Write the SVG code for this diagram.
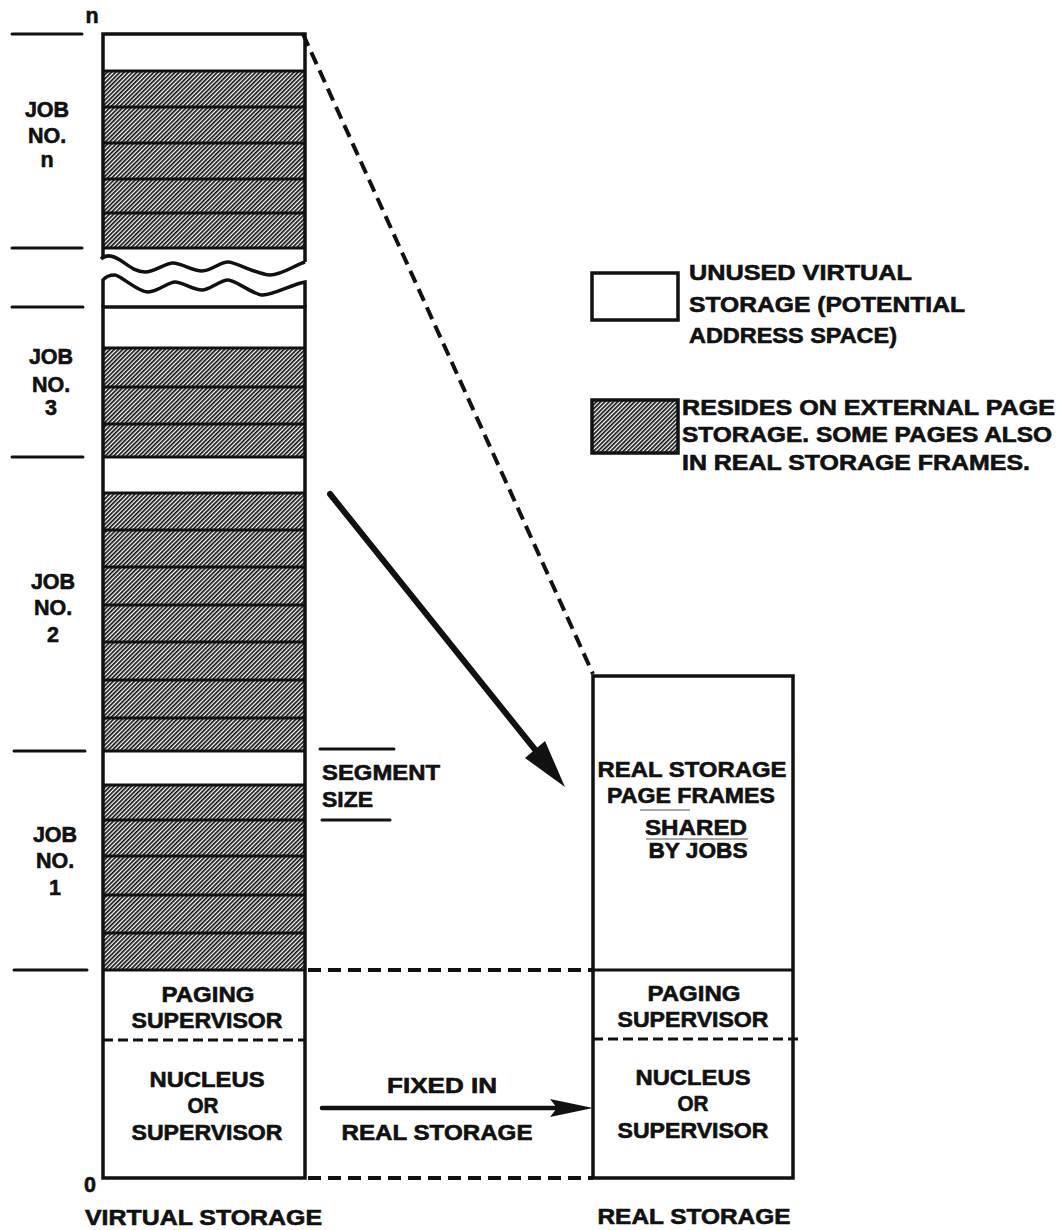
<svg xmlns="http://www.w3.org/2000/svg" width="1057" height="1230" viewBox="0 0 1057 1230">
<style>
.t{font-family:"Liberation Sans",Arial,sans-serif;font-weight:bold;font-size:21.5px;fill:#111;stroke:#111;stroke-width:0.6}
.m{text-anchor:middle}
.ol{fill:none;stroke:#111;stroke-width:3.5}
.row{stroke:#111;stroke-width:3}
.tick{stroke:#111;stroke-width:3;stroke-linecap:round}
.dash{fill:none;stroke:#111;stroke-width:4;stroke-dasharray:13 7}
.dsm{fill:none;stroke:#111;stroke-width:3;stroke-dasharray:10 5}
</style>
<defs>
<pattern id="hatch" width="3" height="3" patternUnits="userSpaceOnUse" patternTransform="rotate(45)">
<rect width="3" height="3" fill="#fff"/><rect width="1.7" height="3" fill="#111"/>
</pattern>
</defs>

<g id="scale-ticks">
<line class="tick" x1="12" y1="34" x2="82" y2="34"/>
<line class="tick" x1="12" y1="248" x2="82" y2="248"/>
<line class="tick" x1="12" y1="307" x2="83" y2="307"/>
<line class="tick" x1="12" y1="457" x2="83" y2="457"/>
<line class="tick" x1="14" y1="751" x2="85" y2="751"/>
<line class="tick" x1="14" y1="970" x2="87" y2="970"/>
<text class="t m" x="92" y="23">n</text>
<text class="t m" x="90" y="1192">0</text>
</g>

<g id="job-n">
<rect x="103" y="34" width="202" height="214" fill="#fff"/>
<rect x="103" y="71" width="202" height="177" fill="url(#hatch)"/>
<line class="row" x1="103" y1="71" x2="305" y2="71"/>
<line class="row" x1="103" y1="107" x2="305" y2="107"/>
<line class="row" x1="103" y1="143" x2="305" y2="143"/>
<line class="row" x1="103" y1="179" x2="305" y2="179"/>
<line class="row" x1="103" y1="213" x2="305" y2="213"/>
<path class="ol" d="M103,258 L103,34 L305,34 L305,262"/>
<line class="row" x1="103" y1="248" x2="305" y2="248"/>
<text class="t m" x="47" y="117">JOB</text>
<text class="t m" x="47" y="143">NO.</text>
<text class="t m" x="47" y="167">n</text>
</g>

<g id="break">
<path class="ol" d="M101,259 C106,254 112,255 120,260 S135,272 145,272 S165,263 173,263 S193,271 202,271 S220,262 228,262 S258,275 270,275 S295,265 305,262"/>
<path class="ol" d="M103,307 L103,280 C106,276 110,275 115,275 S138,292 148,292 S168,282 175,282 S194,290 202,290 S220,280 228,280 S253,295 263,295 S293,284 305,282 L305,307"/>
</g>

<g id="job-3">
<rect x="103" y="307" width="202" height="150" fill="#fff"/>
<rect x="103" y="348" width="202" height="109" fill="url(#hatch)"/>
<line class="row" x1="103" y1="348" x2="305" y2="348"/>
<line class="row" x1="103" y1="387" x2="305" y2="387"/>
<line class="row" x1="103" y1="424" x2="305" y2="424"/>
<text class="t m" x="51" y="364">JOB</text>
<text class="t m" x="51" y="392">NO.</text>
<text class="t m" x="51" y="415">3</text>
</g>

<g id="job-2">
<rect x="103" y="457" width="202" height="294" fill="#fff"/>
<rect x="103" y="493" width="202" height="258" fill="url(#hatch)"/>
<line class="row" x1="103" y1="457" x2="305" y2="457"/>
<line class="row" x1="103" y1="493" x2="305" y2="493"/>
<line class="row" x1="103" y1="530" x2="305" y2="530"/>
<line class="row" x1="103" y1="567" x2="305" y2="567"/>
<line class="row" x1="103" y1="605" x2="305" y2="605"/>
<line class="row" x1="103" y1="642" x2="305" y2="642"/>
<line class="row" x1="103" y1="680" x2="305" y2="680"/>
<line class="row" x1="103" y1="718" x2="305" y2="718"/>
<text class="t m" x="53" y="589">JOB</text>
<text class="t m" x="53" y="615">NO.</text>
<text class="t m" x="53" y="642">2</text>
</g>

<g id="job-1">
<rect x="103" y="751" width="202" height="219" fill="#fff"/>
<rect x="103" y="785" width="202" height="185" fill="url(#hatch)"/>
<line class="row" x1="103" y1="751" x2="305" y2="751"/>
<line class="row" x1="103" y1="785" x2="305" y2="785"/>
<line class="row" x1="103" y1="820" x2="305" y2="820"/>
<line class="row" x1="103" y1="856" x2="305" y2="856"/>
<line class="row" x1="103" y1="895" x2="305" y2="895"/>
<line class="row" x1="103" y1="933" x2="305" y2="933"/>
<text class="t m" x="55" y="842">JOB</text>
<text class="t m" x="55" y="868">NO.</text>
<text class="t m" x="55" y="895">1</text>
</g>

<g id="v-paging-supervisor">
<line class="row" x1="103" y1="970" x2="305" y2="970"/>
<text class="t m" x="208" y="1002" textLength="93" lengthAdjust="spacingAndGlyphs">PAGING</text>
<text class="t m" x="207" y="1028" textLength="151" lengthAdjust="spacingAndGlyphs">SUPERVISOR</text>
<line class="dsm" x1="103" y1="1040" x2="305" y2="1040"/>
</g>

<g id="v-nucleus">
<text class="t m" x="207" y="1087" textLength="115" lengthAdjust="spacingAndGlyphs">NUCLEUS</text>
<text class="t m" x="203" y="1113" textLength="31" lengthAdjust="spacingAndGlyphs">OR</text>
<text class="t m" x="207" y="1140" textLength="151" lengthAdjust="spacingAndGlyphs">SUPERVISOR</text>
</g>

<path id="v-outline" class="ol" d="M103,307 L103,1178 L305,1178 L305,307 Z"/>

<g id="virtual-storage-label">
<text class="t" x="85" y="1225" textLength="237" lengthAdjust="spacingAndGlyphs">VIRTUAL STORAGE</text>
</g>

<g id="segment-size">
<line class="tick" x1="320" y1="749" x2="394" y2="749"/>
<line class="tick" x1="322" y1="820" x2="390" y2="820"/>
<text class="t" x="322" y="780" textLength="118" lengthAdjust="spacingAndGlyphs">SEGMENT</text>
<text class="t" x="322" y="807" textLength="51" lengthAdjust="spacingAndGlyphs">SIZE</text>
</g>

<g id="real-storage">
<rect x="593" y="676" width="200" height="502" style="fill:#fff;stroke:#111;stroke-width:3.5"/>
<line class="row" x1="593" y1="970" x2="793" y2="970"/>
<line class="dsm" x1="593" y1="1039" x2="798" y2="1039"/>
<text class="t m" x="692" y="777" textLength="189" lengthAdjust="spacingAndGlyphs">REAL STORAGE</text>
<text class="t m" x="691" y="803" textLength="168" lengthAdjust="spacingAndGlyphs">PAGE FRAMES</text>
<line x1="640" y1="810" x2="690" y2="810" stroke="#555" stroke-width="1"/>
<text class="t m" x="696" y="835" textLength="102" lengthAdjust="spacingAndGlyphs">SHARED</text>
<line x1="646" y1="839" x2="748" y2="839" stroke="#555" stroke-width="1"/>
<text class="t m" x="698" y="858" textLength="99" lengthAdjust="spacingAndGlyphs">BY JOBS</text>
<text class="t m" x="694" y="1001" textLength="93" lengthAdjust="spacingAndGlyphs">PAGING</text>
<text class="t m" x="693" y="1027" textLength="151" lengthAdjust="spacingAndGlyphs">SUPERVISOR</text>
<text class="t m" x="693" y="1085" textLength="115" lengthAdjust="spacingAndGlyphs">NUCLEUS</text>
<text class="t m" x="693" y="1111" textLength="31" lengthAdjust="spacingAndGlyphs">OR</text>
<text class="t m" x="693" y="1138" textLength="151" lengthAdjust="spacingAndGlyphs">SUPERVISOR</text>
</g>

<g id="real-storage-label">
<text class="t m" x="694" y="1224" textLength="193" lengthAdjust="spacingAndGlyphs">REAL STORAGE</text>
</g>

<g id="legend-unused">
<rect x="592" y="273" width="86" height="47" style="fill:#fff;stroke:#111;stroke-width:3.5"/>
<text class="t" x="689" y="280" textLength="223" lengthAdjust="spacingAndGlyphs">UNUSED VIRTUAL</text>
<text class="t" x="689" y="312" textLength="276" lengthAdjust="spacingAndGlyphs">STORAGE (POTENTIAL</text>
<text class="t" x="689" y="343" textLength="208" lengthAdjust="spacingAndGlyphs">ADDRESS SPACE)</text>
</g>

<g id="legend-external">
<rect x="592" y="400" width="86" height="53" style="fill:url(#hatch);stroke:#111;stroke-width:3.5"/>
<text class="t" x="682" y="415" textLength="373" lengthAdjust="spacingAndGlyphs">RESIDES ON EXTERNAL PAGE</text>
<text class="t" x="682" y="442" textLength="370" lengthAdjust="spacingAndGlyphs">STORAGE. SOME PAGES ALSO</text>
<text class="t" x="682" y="470" textLength="348" lengthAdjust="spacingAndGlyphs">IN REAL STORAGE FRAMES.</text>
</g>

<g id="connectors">
<line class="dash" x1="303" y1="34" x2="593" y2="674"/>
<line class="dash" x1="308" y1="970" x2="593" y2="970"/>
<line class="dash" x1="308" y1="1178" x2="593" y2="1178"/>
<line x1="330" y1="494" x2="537" y2="752" stroke="#111" stroke-width="6" stroke-linecap="round"/>
<polygon points="565,787 525,758 545,741" fill="#111"/>
<line x1="322" y1="1108" x2="560" y2="1108" stroke="#111" stroke-width="4.5" stroke-linecap="round"/>
<polygon points="593,1108 550,1099 557,1108 550,1117" fill="#111"/>
<text class="t m" x="442" y="1093" textLength="110" lengthAdjust="spacingAndGlyphs">FIXED IN</text>
<text class="t m" x="437" y="1140" textLength="191" lengthAdjust="spacingAndGlyphs">REAL STORAGE</text>
</g>
</svg>
